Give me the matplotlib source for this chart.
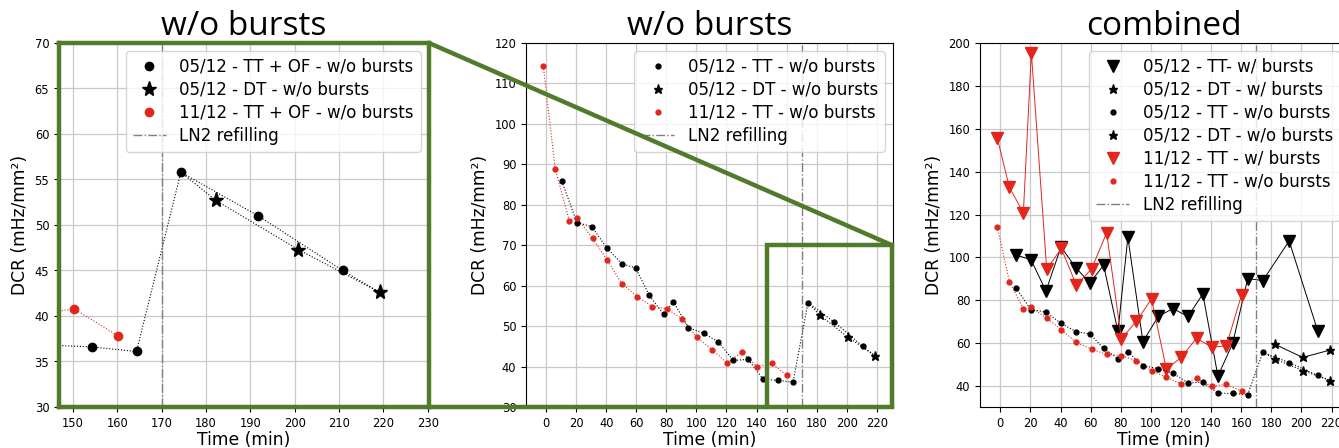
import numpy as np
import matplotlib
matplotlib.use("Agg")
import matplotlib.pyplot as plt
from matplotlib.patches import ConnectionPatch, Rectangle
from matplotlib.lines import Line2D

# ── Data (time in min, DCR in mHz/mm²) ──────────────────────────────────────
tt_x = [10.4, 20.4, 30.3, 40.3, 50.4, 59.5, 68.6, 78.1, 84.7, 94.7, 104.9,
        114.6, 124.6, 134.5, 144.5, 154.3, 164.3, 174.3, 191.8, 210.8]
tt_wo = [85.8, 75.6, 74.6, 69.3, 65.4, 64.4, 57.6, 52.9, 56.0, 49.6, 48.2,
         46.1, 41.5, 41.8, 36.8, 36.6, 36.1, 55.8, 51.0, 45.0]
tt_w = [101.2, 98.9, 84.4, 104.9, 95.0, 88.2, 96.4, 65.5, 109.4, 60.8, 72.5,
        76.2, 72.5, 83.0, 44.7, 60.0, 90.2, 89.2, 107.7, 65.8]

dt_x = [182.2, 200.8, 219.2]
dt_wo = [52.7, 47.3, 42.6]
dt_w = [59.6, 53.4, 56.9]

red_x = [-2.0, 6.0, 15.3, 20.6, 30.8, 40.5, 50.5, 60.6, 70.6, 80.4, 90.4,
         100.4, 110.3, 120.3, 130.3, 140.3, 150.1, 160.2]
red_wo = [114.3, 88.8, 76.1, 76.7, 71.7, 66.4, 60.4, 57.3, 54.8, 54.3, 51.8,
          47.2, 44.2, 40.9, 43.6, 40.0, 40.8, 37.8]
red_w = [155.6, 132.7, 120.9, 195.5, 94.5, 104.2, 87.1, 94.7, 111.5, 62.1,
         70.3, 80.7, 47.9, 53.5, 62.4, 58.2, 58.8, 82.6]

refill_t = 170

RED = "#e3261c"
GREEN = "#4f7b2a"

plt.rcParams["font.family"] = ["DejaVu Sans"]

W, H = 1339, 448
fig = plt.figure(figsize=(W / 100, H / 100), dpi=100)


def px_axes(left, top, right, bottom):
    return fig.add_axes([left / W, 1 - bottom / H, (right - left) / W, (bottom - top) / H])


ax1 = px_axes(59, 43, 429, 407)
ax2 = px_axes(526, 43, 893, 407)
ax3 = px_axes(980, 43, 1348, 407)


def plot_wo(ax, ms_dot, ms_star, labels):
    i = next(k for k, t in enumerate(tt_x) if t > refill_t)
    # connecting lines
    ax.plot(tt_x + [dt_x[-1]], tt_wo + [dt_wo[-1]], ls=":", lw=0.8, color="k")
    ax.plot([tt_x[i]] + dt_x, [tt_wo[i]] + dt_wo, ls=":", lw=0.8, color="k")
    ax.plot(red_x, red_wo, ls=":", lw=0.8, color=RED)
    h1, = ax.plot(tt_x, tt_wo, "o", ms=ms_dot, color="k", ls="none", label=labels[0])
    h2, = ax.plot(dt_x, dt_wo, "*", ms=ms_star, color="k", ls="none", label=labels[1])
    h3, = ax.plot(red_x, red_wo, "o", ms=ms_dot, color=RED, ls="none", label=labels[2])
    return h1, h2, h3


def style(ax):
    ax.grid(True, color="#c8c8c8", lw=0.9)
    ax.set_axisbelow(True)
    ax.tick_params(labelsize=8.3)
    ax.set_xlabel("Time (min)", fontsize=12.3, labelpad=1)
    ax.set_ylabel("DCR (mHz/mm²)", fontsize=12.3)


def title(ax, s):
    ax.set_title(s, fontsize=24, family="Open Sans", pad=4)


leg_kw = dict(loc="upper right", fontsize=12, labelspacing=0.3, borderpad=0.4)

# ── Panel 1: zoom after refill ───────────────────────────────────────────────
h = plot_wo(ax1, 6, 11, ["05/12 - TT + OF - w/o bursts", "05/12 - DT - w/o bursts",
                         "11/12 - TT + OF - w/o bursts"])
ln = ax1.axvline(refill_t, color="gray", ls="-.", lw=1, label="LN2 refilling")
ax1.set_xlim(146.8, 230.3)
ax1.set_ylim(30, 70)
ax1.set_xticks(np.arange(150, 231, 10))
ax1.set_yticks(np.arange(30, 71, 5))
style(ax1)
for sp in ax1.spines.values():
    sp.set_color(GREEN)
    sp.set_linewidth(3.2)
    sp.set_zorder(10)
ax1.legend(handles=[*h, ln], **leg_kw)
title(ax1, "w/o bursts")

# ── Panel 2: full run w/o bursts ─────────────────────────────────────────────
h = plot_wo(ax2, 3.5, 6.5, ["05/12 - TT - w/o bursts", "05/12 - DT - w/o bursts",
                            "11/12 - TT - w/o bursts"])
ln = ax2.axvline(refill_t, color="gray", ls="-.", lw=1, label="LN2 refilling")
ax2.set_xlim(-13.5, 230.9)
ax2.set_ylim(30, 120)
ax2.set_xticks(np.arange(0, 221, 20))
style(ax2)
ax2.legend(handles=[*h, ln], **leg_kw)
title(ax2, "w/o bursts")

# ── Panel 3: combined ────────────────────────────────────────────────────────
ax3.plot(tt_x, tt_w, "-", lw=0.7, color="k")
hw1, = ax3.plot(tt_x, tt_w, "v", ms=8, color="k", ls="none", label="05/12 - TT- w/ bursts")
ax3.plot(dt_x, dt_w, "-", lw=0.7, color="k")
hw2, = ax3.plot(dt_x, dt_w, "*", ms=6.5, color="k", ls="none", label="05/12 - DT - w/ bursts")
ax3.plot(red_x, red_w, "-", lw=0.7, color=RED)
hw3, = ax3.plot(red_x, red_w, "v", ms=8, color=RED, ls="none", label="11/12 - TT - w/ bursts")
h = plot_wo(ax3, 3.5, 6.5, ["05/12 - TT - w/o bursts", "05/12 - DT - w/o bursts",
                            "11/12 - TT - w/o bursts"])
ln = ax3.axvline(refill_t, color="gray", ls="-.", lw=1, label="LN2 refilling")
ax3.set_xlim(-13.5, 230.9)
ax3.set_ylim(30.3, 200)
ax3.set_xticks(np.arange(0, 221, 20))
style(ax3)
ax3.legend(handles=[hw1, hw2, h[0], h[1], hw3, h[2], ln], **leg_kw)
title(ax3, "combined")

# ── Zoom indicator between panel 2 and panel 1 ───────────────────────────────
x0, x1 = ax1.get_xlim()
y0, y1 = ax1.get_ylim()
ax2.add_patch(Rectangle((x0, y0), x1 - x0, y1 - y0, fill=False, ec=GREEN,
                        lw=3.2, zorder=10, clip_on=False))
for a, b in [((x1, y1), (x1, y1)), ((x1, y0), (x0, y0))]:
    con = ConnectionPatch(xyA=a, coordsA=ax1.transData, xyB=b, coordsB=ax2.transData,
                          color=GREEN, lw=3.2, zorder=20)
    fig.add_artist(con)

fig.savefig("out.png", dpi=100)
